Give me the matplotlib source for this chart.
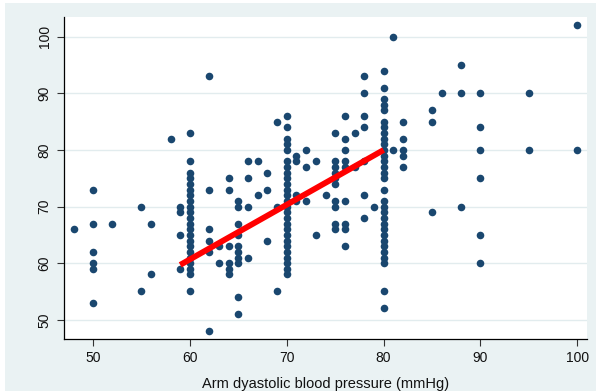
import numpy as np
import matplotlib
matplotlib.use('Agg')
import matplotlib.pyplot as plt
from matplotlib.patches import Rectangle

plt.rcParams['font.family'] = ['Liberation Sans', 'DejaVu Sans']

# arm diastolic pressure values (x) and the y readings stacked at each of them
column_x = [48, 50, 52, 55, 56, 58, 59, 60, 62, 63, 64, 65, 66, 67, 68, 69, 70,
            71, 72, 73, 74, 75, 76, 77, 78, 79, 80, 81, 82, 85, 86, 88, 90, 95, 100]
column_y = [
    [66],
    [73, 67, 62, 60, 59, 53],
    [67],
    [70, 55],
    [67, 58],
    [82],
    [70, 69, 65, 59],
    [83, 78, 76, 75, 74, 73, 72, 71, 70, 69, 68, 67, 66, 65, 64, 63, 62, 61, 60, 59, 58, 55],
    [93, 73, 66, 64, 62, 48],
    [63, 60],
    [75, 73, 63, 60, 59, 58],
    [71, 70, 67, 65, 63, 62, 61, 60, 54, 51],
    [78, 75, 70, 61],
    [78, 72],
    [76, 73, 64],
    [85, 70, 55],
    [86, 84, 82, 81, 80, 78, 77, 76, 75, 74, 73, 72, 71, 70, 69, 68, 67, 66, 65, 64, 63, 62, 61, 60, 59, 58],
    [79, 78, 72, 71],
    [80, 77, 71],
    [78, 65],
    [72],
    [83, 78, 77, 76, 75, 74, 71, 70, 67, 66],
    [86, 82, 80, 78, 77, 71, 67, 66, 63],
    [83, 77],
    [93, 90, 86, 84, 78, 72, 68],
    [70],
    [94, 91, 89, 88, 87, 85, 84, 83, 82, 81, 80, 79, 78, 77, 76, 75, 73,
     71, 70, 69, 68, 67, 66, 65, 64, 63, 62, 61, 60, 55, 52],
    [100, 80],
    [85, 82, 80, 79, 77],
    [87, 85, 69],
    [90],
    [95, 90, 70],
    [90, 84, 80, 75, 65, 60],
    [90, 80],
    [102, 80],
]

# fitted line end points
fit_x = [59, 80]
fit_y = [59.7, 80.0]

x_ticks = [50, 60, 70, 80, 90, 100]
y_ticks = [50, 60, 70, 80, 90, 100]
x_label = 'Arm dyastolic blood pressure (mmHg)'

xs = []
ys = []
for x, col in zip(column_x, column_y):
    xs += [x] * len(col)
    ys += col

bg = '#eaf2f3'
navy = '#1a476f'

fig = plt.figure(figsize=(5.96, 3.91), dpi=100, facecolor=bg)
# thin white border at top/left like the export
fig.patches.append(Rectangle((0, 0), 5 / 596, 1, transform=fig.transFigure,
                             facecolor='white', edgecolor='none', zorder=-1))
fig.patches.append(Rectangle((0, 1 - 3 / 391), 1, 3 / 391, transform=fig.transFigure,
                             facecolor='white', edgecolor='none', zorder=-1))

ax = fig.add_axes([64 / 596, 1 - 339 / 391, (587 - 64) / 596, (339 - 17) / 391])
ax.set_facecolor('white')

ax.scatter(xs, ys, s=30, color=navy, linewidths=0, zorder=3)
ax.plot(fit_x, fit_y, color='red', linewidth=4.2, solid_capstyle='butt', zorder=4)

ax.set_xlim(47.0, 101.0)
ax.set_ylim(46.6, 103.5)
ax.set_xticks(x_ticks)
ax.set_yticks(y_ticks)
ax.set_yticklabels([str(t) for t in y_ticks], rotation=90, va='center')

ax.grid(axis='y', color='#e2ecee', linewidth=1.0, zorder=0)
ax.set_axisbelow(True)

for side in ['top', 'right']:
    ax.spines[side].set_visible(False)
for side in ['left', 'bottom']:
    ax.spines[side].set_color('black')
    ax.spines[side].set_linewidth(0.9)

ax.tick_params(axis='both', direction='out', length=5, width=0.8, color='#333333',
               labelsize=10, labelcolor='#111111', pad=4)
ax.set_xlabel(x_label, fontsize=10.5, color='#111111', labelpad=8)

fig.savefig('out.png', dpi=100, facecolor=bg)
